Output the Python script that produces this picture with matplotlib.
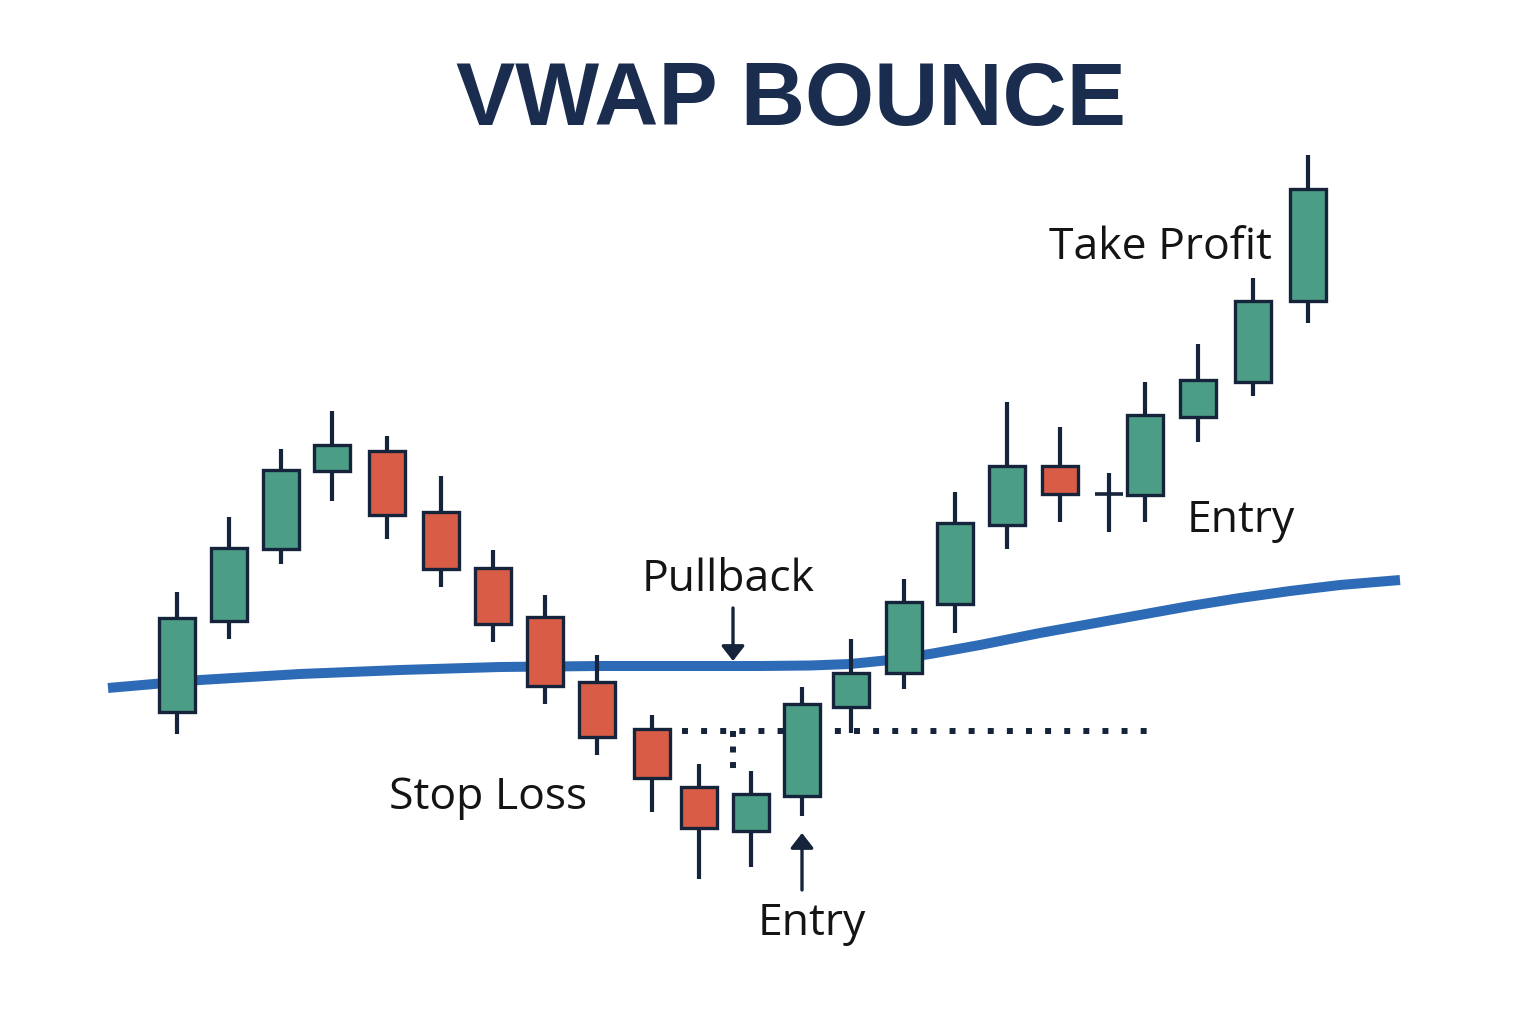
"""VWAP bounce illustration: candlesticks, VWAP line and trade annotations."""

import matplotlib

matplotlib.use("Agg")
import matplotlib.pyplot as plt
from matplotlib.patches import Rectangle

# Candle data. Levels are in screen-like units with the
# y axis inverted (a smaller value sits higher on the chart).
bar_x = [177, 229, 281, 332, 387, 441, 493, 545, 597, 652, 699, 751,
         802, 851, 904, 955, 1007, 1060, 1109, 1145, 1198, 1253, 1308]
opens = [712, 621, 549, 471, 451, 512, 568, 617, 682, 729, 787, 831,
         796, 707, 673, 604, 525, 466, 494, 495, 417, 382, 301]
closes = [618, 548, 470, 445, 515, 569, 624, 686, 737, 778, 828, 794,
          704, 673, 602, 523, 466, 494, 494, 415, 380, 301, 189]
highs = [592, 517, 449, 411, 436, 476, 550, 595, 655, 715, 764, 771,
         687, 639, 579, 492, 402, 427, 473, 382, 344, 278, 155]
lows = [734, 639, 564, 501, 539, 587, 642, 704, 755, 812, 879, 867,
        816, 733, 689, 633, 549, 522, 532, 522, 442, 396, 323]

vwap_x = [108, 200, 300, 400, 500, 600, 700, 760, 810, 850, 890, 930,
          980, 1040, 1090, 1140, 1190, 1240, 1290, 1340, 1400]
vwap_y = [688, 680, 674, 670, 667, 666, 666, 666, 665.5, 664, 660, 654,
          645, 633, 624, 615, 606, 598, 591, 585, 580]

stop_level = 731
stop_x = [682, 1150]
pullback_low = 777
pullback_x = 733

GREEN = "#4b9e85"
RED = "#d95c47"
EDGE = "#15243a"
BLUE = "#2e6bb6"
TEXT = "#141414"
TITLE = "#1b2d4f"

fig = plt.figure(figsize=(15.36, 10.24), dpi=100)
ax = fig.add_axes([0, 0, 1, 1])
ax.set_xlim(0, 1536)
ax.set_ylim(1024, 0)
ax.axis("off")

# VWAP
ax.plot(vwap_x, vwap_y, color=BLUE, lw=7.2, solid_capstyle="butt",
        solid_joinstyle="round", zorder=2)

# stop-loss reference lines
ax.plot(stop_x, [stop_level, stop_level], color=EDGE, lw=4.3,
        dashes=(1, 2.2), dash_capstyle="butt", zorder=1)
ax.plot([pullback_x, pullback_x], [stop_level, pullback_low], color=EDGE,
        lw=4.3, dashes=(1, 1.6), dash_capstyle="butt", zorder=1)

body_w = 36
for x, o, c, h, l in zip(bar_x, opens, closes, highs, lows):
    ax.plot([x, x], [h, l], color=EDGE, lw=3, solid_capstyle="butt", zorder=3)
    if o == c:
        ax.plot([x - 14, x + 14], [o, o], color=EDGE, lw=2.6,
                solid_capstyle="butt", zorder=4)
        continue
    color = GREEN if c < o else RED
    top = min(o, c)
    ax.add_patch(Rectangle((x - body_w / 2, top), body_w, abs(o - c),
                           facecolor=color, edgecolor=EDGE, lw=2.4, zorder=4))

arrow = dict(arrowstyle="-|>,head_length=9,head_width=7", color=EDGE, lw=2.4,
             mutation_scale=1, shrinkA=0, shrinkB=0)
ax.annotate("", xy=(733, 661), xytext=(733, 608), arrowprops=arrow, zorder=5)
ax.annotate("", xy=(802, 833), xytext=(802, 890), arrowprops=arrow, zorder=5)

label = dict(fontsize=32, family="Open Sans", color=TEXT, ha="left",
             va="baseline")
ax.text(1049, 259, "Take Profit", **label)
ax.text(1187, 532, "Entry", **label)
ax.text(642, 591, "Pullback", **label)
ax.text(389, 809, "Stop Loss", **label)
ax.text(758, 935, "Entry", **label)

ax.text(791, 125, "VWAP BOUNCE", fontsize=64, family="Liberation Sans",
        fontweight="bold", color=TITLE, ha="center", va="baseline")

fig.savefig("out.png", dpi=100)
plt.close(fig)
